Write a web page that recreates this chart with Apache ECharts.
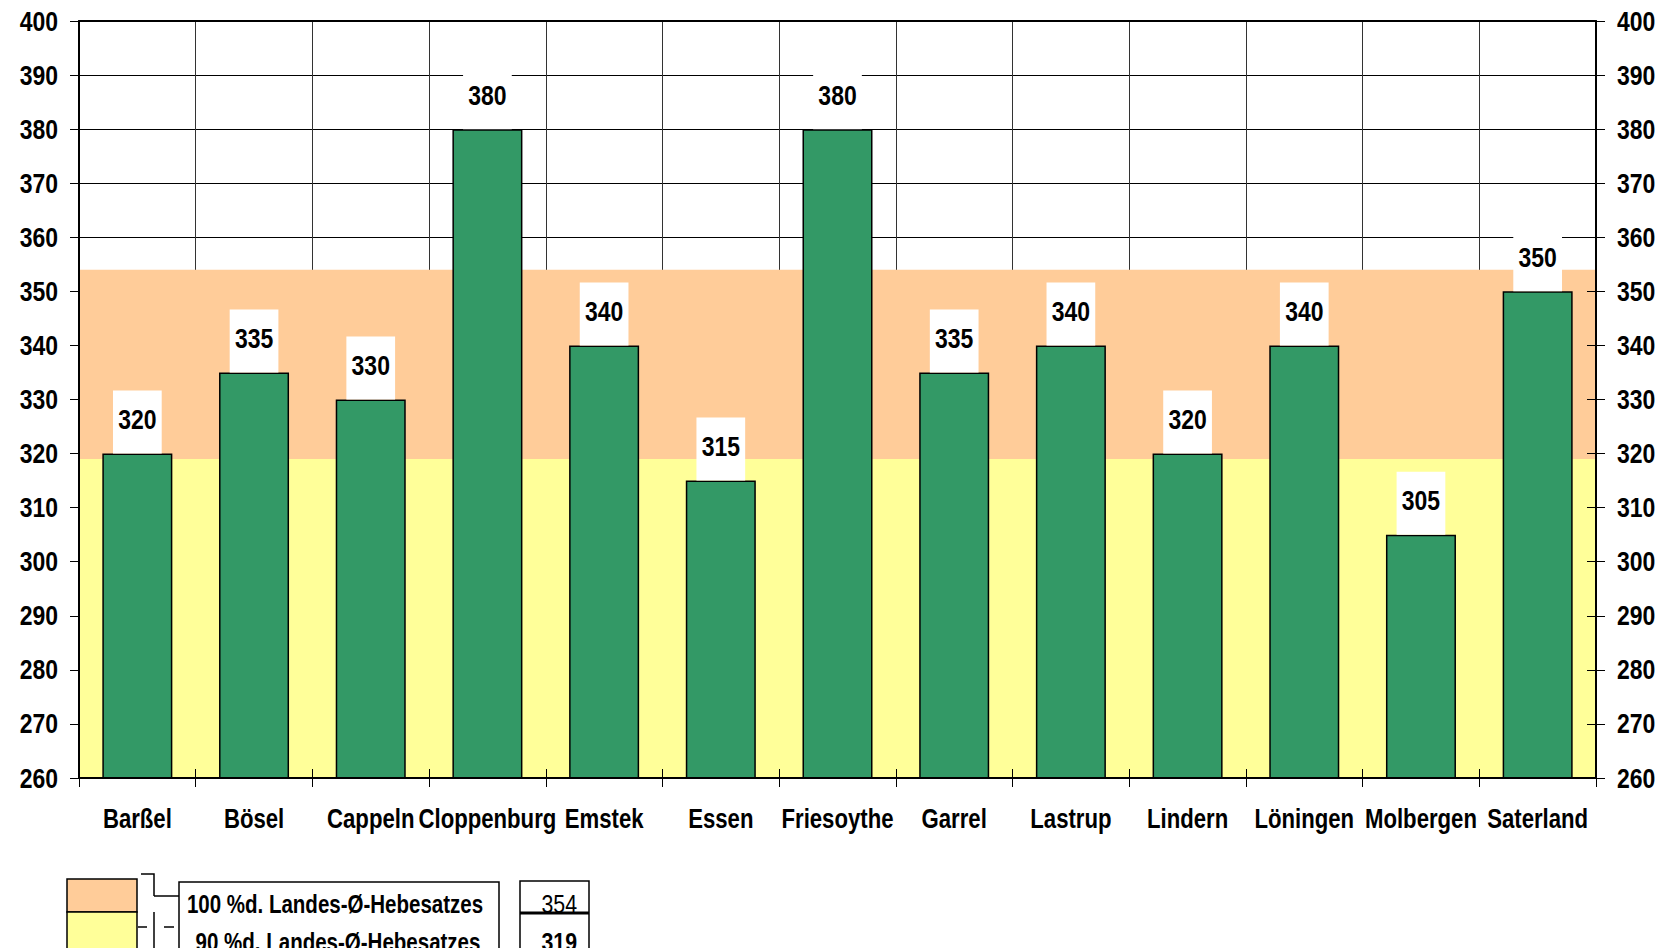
<!DOCTYPE html>
<html><head><meta charset="utf-8">
<script src="https://cdn.jsdelivr.net/npm/echarts@6/dist/echarts.min.js"></script>
<style>html,body{margin:0;padding:0;background:#fff}#c{width:1673px;height:948px}</style>
</head><body><div id="c"></div>
<script>
const categories = ['Barßel','Bösel','Cappeln','Cloppenburg','Emstek','Essen','Friesoythe','Garrel','Lastrup','Lindern','Löningen','Molbergen','Saterland'];
const rates = [320,335,330,380,340,315,380,335,340,320,340,305,350];
const yMin = 260, yMax = 400, yInterval = 10;
const bandLabels = ['100 %d. Landes-Ø-Hebesatzes','90 %d. Landes-Ø-Hebesatzes'];
const bandValues = [354, 319];

const FONT = '"Liberation Sans",Arial,sans-serif';
const NARROW = 0.82; // emulate a narrow (condensed) face
const ORANGE = '#FFCC99', YELLOW = '#FFFF99', GREEN = '#339966';

function yAx(extra){
  return Object.assign({type:'value', min:yMin, max:yMax, interval:yInterval,
    axisLine:{show:false}, axisTick:{show:false}, axisLabel:{show:false}, splitLine:{show:false}}, extra);
}
function xAx(extra){
  return Object.assign({type:'category', data:categories,
    axisLine:{show:false, onZero:false}, axisTick:{show:false}, axisLabel:{show:false}, splitLine:{show:false}}, extra);
}
const labelStyle = {color:'#000', fontFamily:FONT, fontWeight:'bold', fontSize:28};

const chart = echarts.init(document.getElementById('c'), null, {renderer:'svg'});
chart.setOption({
  animation:false,
  backgroundColor:'#fff',
  grid:{left:79, right:77, top:21, bottom:170, containLabel:false},
  xAxis:[
    xAx({position:'bottom', z:0, splitLine:{show:true, lineStyle:{color:'#333', width:1}}}),
    xAx({position:'bottom', z:6, axisLine:{show:true, onZero:false, lineStyle:{color:'#000', width:2}},
      axisTick:{show:true, length:9, lineStyle:{color:'#000', width:1}},
      axisLabel:Object.assign({show:true, margin:27, interval:0}, labelStyle, {fontSize:27})}),
    xAx({position:'bottom', z:6, axisTick:{show:true, inside:true, length:9, lineStyle:{color:'#000', width:1}}}),
    xAx({position:'top', z:6, axisLine:{show:true, onZero:false, lineStyle:{color:'#000', width:2}}})
  ],
  yAxis:[
    yAx({position:'left', z:0, splitLine:{show:true, lineStyle:{color:'#000', width:1}}}),
    yAx({position:'left', z:6, axisLine:{show:true, onZero:false, lineStyle:{color:'#000', width:2}},
      axisTick:{show:true, length:9, lineStyle:{color:'#000', width:1}},
      axisLabel:Object.assign({show:true, margin:21}, labelStyle)}),
    yAx({position:'right', z:6, axisLine:{show:true, onZero:false, lineStyle:{color:'#000', width:2}},
      axisTick:{show:true, length:9, lineStyle:{color:'#000', width:1}},
      axisLabel:Object.assign({show:true, margin:21}, labelStyle)}),
    yAx({position:'right', z:6, axisTick:{show:true, inside:true, length:9, lineStyle:{color:'#000', width:1}}})
  ],
  series:[
    {type:'line', xAxisIndex:0, yAxisIndex:0, data:[], z:1, silent:true,
      markArea:{silent:true, label:{show:false},
        data:[
          [{yAxis:bandValues[1], itemStyle:{color:ORANGE, opacity:1}}, {yAxis:bandValues[0]}],
          [{yAxis:yMin, itemStyle:{color:YELLOW, opacity:1}}, {yAxis:bandValues[1]}]
        ]}},
    {type:'bar', xAxisIndex:0, yAxisIndex:0, data:rates, z:3, barWidth:'60%',
      itemStyle:{color:GREEN, borderColor:'#000', borderWidth:1.5},
      label:Object.assign({show:true, position:'top', distance:0, lineHeight:28,
        backgroundColor:'#fff', padding:[15,1,20,1]}, labelStyle)}
  ],
  graphic:[
    {type:'rect', shape:{x:67, y:879, width:70, height:33}, style:{fill:ORANGE, stroke:'#000', lineWidth:1.5}},
    {type:'rect', shape:{x:67, y:912, width:70, height:50}, style:{fill:YELLOW, stroke:'#000', lineWidth:1.5}},
    {type:'polyline', shape:{points:[[141,874],[154,874],[154,896]]}, style:{stroke:'#000', lineWidth:1.5, fill:null}},
    {type:'line', shape:{x1:154, y1:896, x2:179, y2:896}, style:{stroke:'#000', lineWidth:1.5}},
    {type:'line', shape:{x1:154, y1:912, x2:154, y2:948}, style:{stroke:'#000', lineWidth:1.5}},
    {type:'line', shape:{x1:138, y1:927, x2:147, y2:927}, style:{stroke:'#000', lineWidth:1.5}},
    {type:'line', shape:{x1:164, y1:927, x2:174, y2:927}, style:{stroke:'#000', lineWidth:1.5}},
    {type:'rect', shape:{x:179, y:882, width:320, height:100}, style:{fill:'#fff', stroke:'#000', lineWidth:1.5}},
    {type:'rect', shape:{x:520, y:881, width:69, height:100}, style:{fill:'#fff', stroke:'#000', lineWidth:1.5}},
    {type:'line', shape:{x1:520, y1:913, x2:589, y2:913}, style:{stroke:'#000', lineWidth:3}},
    {type:'text', x:335, y:904, style:{text:bandLabels[0], fill:'#000', font:'bold 25px '+FONT, textAlign:'center', textVerticalAlign:'middle'}},
    {type:'text', x:338, y:942, style:{text:bandLabels[1], fill:'#000', font:'bold 25px '+FONT, textAlign:'center', textVerticalAlign:'middle'}},
    {type:'text', x:577, y:904, style:{text:String(bandValues[0]), fill:'#000', font:'26px '+FONT, textAlign:'right', textVerticalAlign:'middle'}},
    {type:'text', x:577, y:942, style:{text:String(bandValues[1]), fill:'#000', font:'bold 26px '+FONT, textAlign:'right', textVerticalAlign:'middle'}}
  ]
});

function condense(){
  const svg = document.querySelector('#c svg');
  if (!svg) return;
  svg.querySelectorAll('text').forEach(function(t){
    if (t.getAttribute('lengthAdjust')) return;
    const len = t.getComputedTextLength();
    if (len > 0){
      t.setAttribute('textLength', (len * NARROW).toFixed(2));
      t.setAttribute('lengthAdjust', 'spacingAndGlyphs');
    }
  });
}
condense();
chart.on('finished', condense);
setTimeout(condense, 30);
</script></body></html>
